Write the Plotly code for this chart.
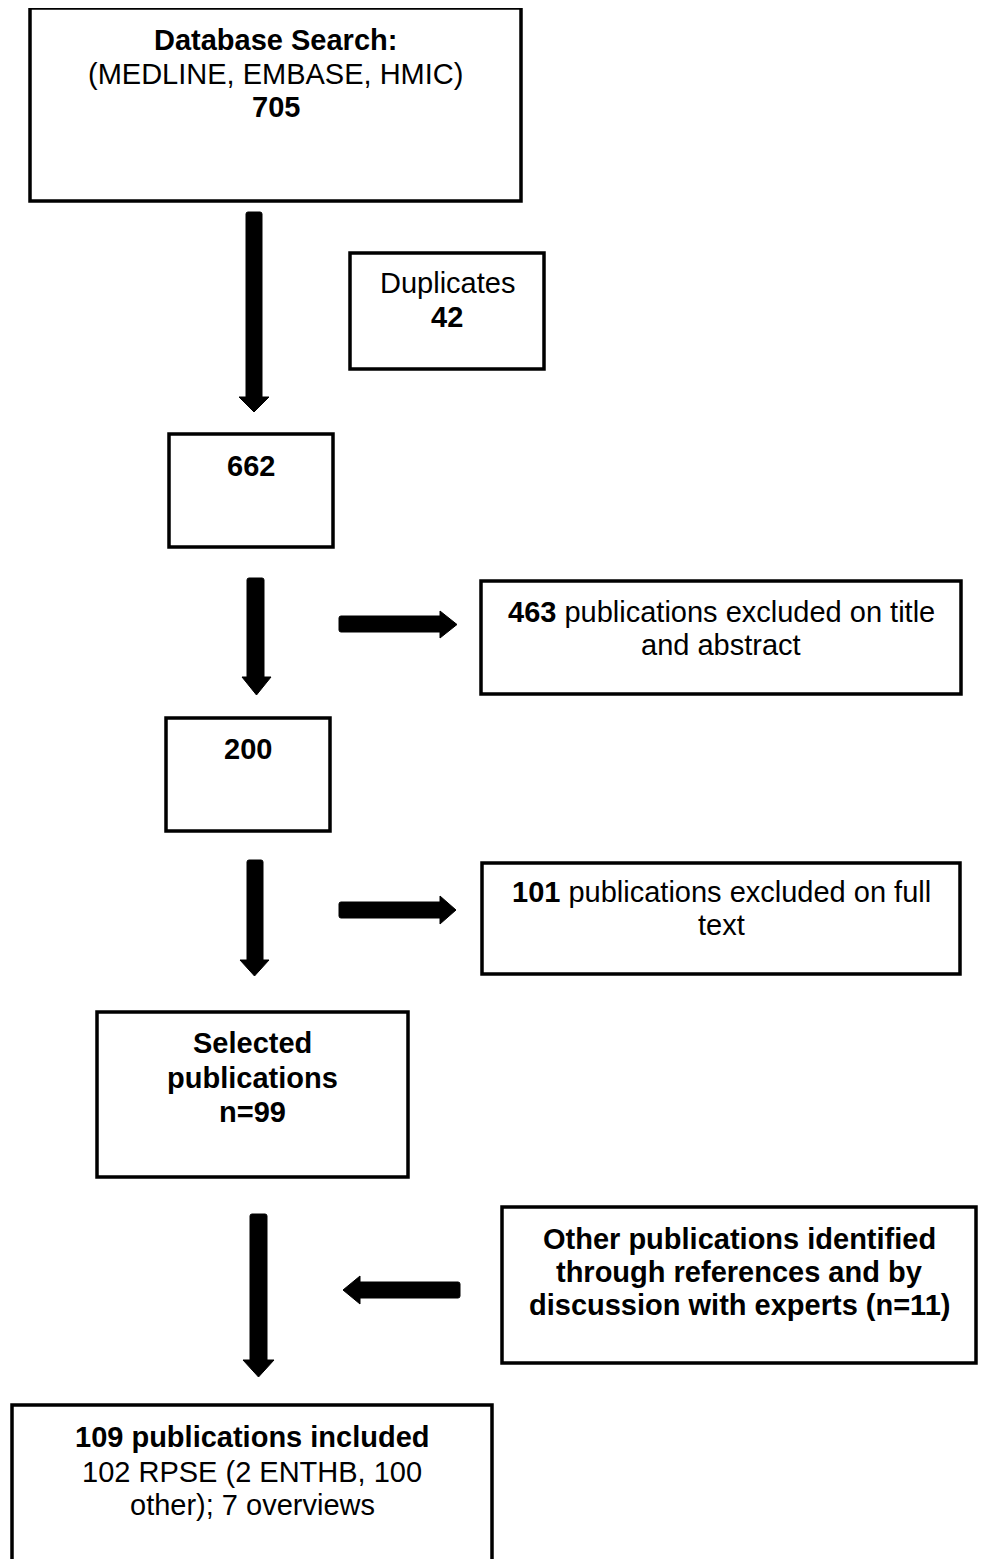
import plotly.graph_objects as go

# ---------------- data ----------------
databases = ["MEDLINE", "EMBASE", "HMIC"]
stage_names = ["identified", "duplicates", "after_duplicates", "excluded_title_abstract",
               "full_text", "excluded_full_text", "selected", "other_sources", "included"]
stage_counts = [705, 42, 662, 463, 200, 101, 99, 11, 109]
included_rpse = [102]
rpse_split_labels = ["ENTHB", "other"]
rpse_split_counts = [2, 100]
overview_counts = [7]

c = dict(zip(stage_names, stage_counts))

# ---------------- text content for each box (lines) ----------------
box_text = {
    "identified": ["<b>Database Search:</b>",
                   "(" + ", ".join(databases) + ")",
                   f"<b>{c['identified']}</b>"],
    "duplicates": ["Duplicates", f"<b>{c['duplicates']}</b>"],
    "after_duplicates": [f"<b>{c['after_duplicates']}</b>"],
    "excluded_title_abstract": [f"<b>{c['excluded_title_abstract']}</b> publications excluded on title",
                                "and abstract"],
    "full_text": [f"<b>{c['full_text']}</b>"],
    "excluded_full_text": [f"<b>{c['excluded_full_text']}</b> publications excluded on full",
                           "text"],
    "selected": ["<b>Selected</b>", "<b>publications</b>", f"<b>n={c['selected']}</b>"],
    "other_sources": ["<b>Other publications identified</b>",
                      "<b>through references and by</b>",
                      f"<b>discussion with experts (n={c['other_sources']})</b>"],
    "included": [f"<b>{c['included']} publications included</b>",
                 f"{included_rpse[0]} RPSE ({rpse_split_counts[0]} {rpse_split_labels[0]}, {rpse_split_counts[1]}",
                 f"{rpse_split_labels[1]}); {overview_counts[0]} overviews"],
}

# ---------------- layout geometry (page pixels, y downward) ----------------
PAGE_W, PAGE_H = 987, 1567
BODY_MARGIN = 8  # default html body margin offsets the figure
W, H = PAGE_W - 2 * BODY_MARGIN, PAGE_H - 2 * BODY_MARGIN
X_MIN, X_MAX = BODY_MARGIN, BODY_MARGIN + W
Y_MIN, Y_MAX = BODY_MARGIN, BODY_MARGIN + H

boxes = {
    # name: (x0, y0, x1, y1, [line centre y])
    "identified": (30, 8, 521, 201, [40, 74, 107]),
    "duplicates": (350, 253, 544, 369, [283, 317]),
    "after_duplicates": (169, 434, 333, 547, [466]),
    "excluded_title_abstract": (481, 581, 961, 694, [612, 645]),
    "full_text": (166, 718, 330, 831, [749]),
    "excluded_full_text": (482, 863, 960, 974, [892, 925]),
    "selected": (97, 1012, 408, 1177, [1043, 1078, 1112]),
    "other_sources": (502, 1207, 976, 1363, [1239, 1272, 1305]),
    "included": (12, 1405, 492, 1620, [1437, 1472, 1505]),
}

# vertical arrows: (shaft x0, shaft x1, shaft top, head base, head x0, head x1, tip)
down_arrows = [
    (246, 262, 212, 397, 239, 269, 412),
    (247, 264, 578, 677, 242, 271, 695),
    (247, 263, 860, 960, 240, 269, 976),
    (250, 267, 1214, 1360, 243, 274, 1377),
]
# horizontal arrows: (shaft y0, shaft y1, tail x, head base x, head y0, head y1, tip x)
side_arrows = [
    (616, 632, 339, 440, 611, 638, 457),
    (902, 918, 339, 440, 896, 924, 456),
    (1282, 1298, 460, 360, 1276, 1304, 343),
]

FONT = "Liberation Sans, Arial, Helvetica, sans-serif"
FS = 29

fig = go.Figure()
fig.add_trace(go.Scatter(x=[X_MIN, X_MAX], y=[Y_MIN, Y_MAX], mode="markers",
                         marker=dict(opacity=0), hoverinfo="skip", showlegend=False))

shapes = []
annotations = []
for name, (x0, y0, x1, y1, ys) in boxes.items():
    shapes.append(dict(type="rect", xref="x", yref="y", x0=x0, y0=y0, x1=x1, y1=y1,
                       line=dict(color="black", width=3.5), fillcolor="white", layer="below"))
    xc = (x0 + x1) / 2
    for line, yc in zip(box_text[name], ys):
        annotations.append(dict(x=xc, y=yc, xref="x", yref="y", text=line, showarrow=False,
                                xanchor="center", yanchor="middle",
                                font=dict(family=FONT, size=FS, color="black")))

for (sx0, sx1, top, hb, hx0, hx1, tip) in down_arrows:
    xm = (hx0 + hx1) / 2
    path = (f"M {sx0},{top + 2} Q {sx0},{top} {sx0 + 2},{top} L {sx1 - 2},{top} "
            f"Q {sx1},{top} {sx1},{top + 2} L {sx1},{hb} L {hx1},{hb} L {xm},{tip} "
            f"L {hx0},{hb} L {sx0},{hb} Z")
    shapes.append(dict(type="path", xref="x", yref="y", path=path,
                       fillcolor="black", line=dict(color="black", width=1)))

for (sy0, sy1, tail, hb, hy0, hy1, tip) in side_arrows:
    ym = (hy0 + hy1) / 2
    d = 1 if tip > tail else -1
    path = (f"M {tail + 2 * d},{sy0} L {hb},{sy0} L {hb},{hy0} L {tip},{ym} L {hb},{hy1} "
            f"L {hb},{sy1} L {tail + 2 * d},{sy1} Q {tail},{sy1} {tail},{sy1 - 2} "
            f"L {tail},{sy0 + 2} Q {tail},{sy0} {tail + 2 * d},{sy0} Z")
    shapes.append(dict(type="path", xref="x", yref="y", path=path,
                       fillcolor="black", line=dict(color="black", width=1)))

fig.update_layout(
    width=W, height=H,
    margin=dict(l=0, r=0, t=0, b=0),
    paper_bgcolor="white", plot_bgcolor="white",
    xaxis=dict(range=[X_MIN, X_MAX], visible=False, fixedrange=True),
    yaxis=dict(range=[Y_MAX, Y_MIN], visible=False, fixedrange=True),
    shapes=shapes, annotations=annotations,
    showlegend=False,
)

fig.write_html("out.html", config={"displayModeBar": False})
